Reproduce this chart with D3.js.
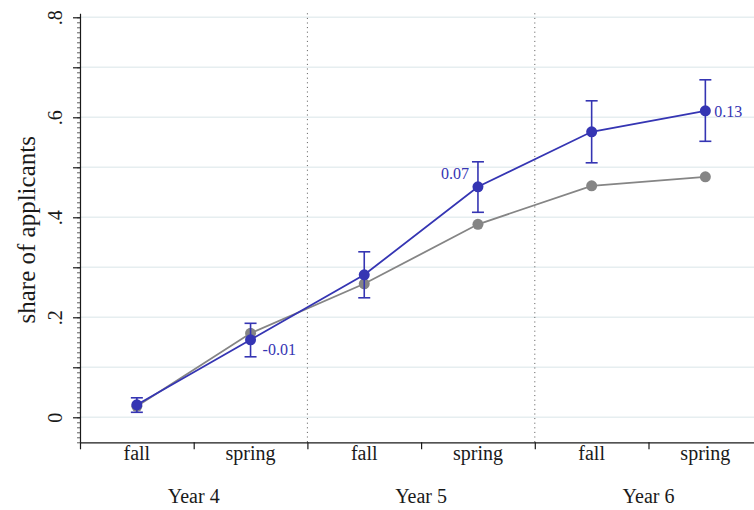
<!DOCTYPE html>
<html>
<head>
<meta charset="utf-8">
<script src="https://cdn.jsdelivr.net/npm/d3@7"></script>
<style>
  html, body { margin: 0; padding: 0; background: #fff; }
  svg { display: block; font-family: "Liberation Serif", "Times New Roman", serif; }
</style>
</head>
<body>
<svg id="chart" width="754" height="510"></svg>
<script>
// Semester slots (term within year) and the year each pair belongs to
const terms = ["fall", "spring", "fall", "spring", "fall", "spring"];
const years = ["Year 4", "Year 5", "Year 6"];
const slotKeys = ["Y4-fall", "Y4-spring", "Y5-fall", "Y5-spring", "Y6-fall", "Y6-spring"];

// Comparison group share (gray)
const grayShare = [0.022, 0.168, 0.267, 0.386, 0.463, 0.481];
// Treated group share (blue) with confidence interval bounds
const blueShare = [0.025, 0.155, 0.285, 0.461, 0.571, 0.613];
const blueLow   = [0.010, 0.121, 0.239, 0.410, 0.509, 0.552];
const blueHigh  = [0.039, 0.188, 0.331, 0.511, 0.633, 0.675];
// Difference labels shown on spring points
const diffLabels = [null, "-0.01", null, "0.07", null, "0.13"];

// Y axis ticks
const yMajorTicks = [0, 0.1, 0.2, 0.3, 0.4, 0.5, 0.6, 0.7, 0.8];
const yTickLabels = { 0: "0", 0.2: ".2", 0.4: ".4", 0.6: ".6", 0.8: ".8" };

(function () {
const svg = d3.select("#chart");
const plotL = 80, plotR = 762.2, plotB = 442.3, plotT = 13.3;
const blue = "#3535b3", grayC = "#858585", ink = "#1a1a1a";

const y = d3.scaleLinear().domain([-0.05, 0.808]).range([plotB, plotT]);
const x = d3.scaleBand().domain(slotKeys).range([plotL, plotR]).padding(0);
const xYear = d3.scaleBand().domain(years).range([plotL, plotR]).padding(0);
const cx = i => x(slotKeys[i]) + x.bandwidth() / 2;

// Horizontal gridlines
svg.append("g").selectAll("line").data(yMajorTicks).join("line")
  .attr("x1", plotL).attr("x2", 754)
  .attr("y1", d => y(d)).attr("y2", d => y(d))
  .attr("stroke", "#e6eef0").attr("stroke-width", 1.5);

// Dotted separators between years
svg.append("g").selectAll("line").data(years.slice(1)).join("line")
  .attr("x1", d => xYear(d)).attr("x2", d => xYear(d))
  .attr("y1", plotT).attr("y2", plotB)
  .attr("stroke", "#555").attr("stroke-width", 1)
  .attr("stroke-dasharray", "1,3.6");

// Y axis: minor ticks every 0.01
const minorTicks = d3.range(-5, 81).map(v => v / 100);
svg.append("g").attr("transform", `translate(${plotL},0)`)
  .call(d3.axisLeft(y).tickValues(minorTicks).tickSize(3).tickSizeOuter(0).tickFormat(""))
  .call(g => g.select(".domain").attr("stroke", ink).attr("stroke-width", 1.2))
  .call(g => g.selectAll(".tick line").attr("stroke", ink).attr("stroke-width", 0.7));

// Y axis: major ticks with rotated labels
svg.append("g").attr("transform", `translate(${plotL},0)`)
  .call(d3.axisLeft(y).tickValues(yMajorTicks).tickSize(7).tickSizeOuter(0)
    .tickFormat(d => yTickLabels[Math.round(d * 10) / 10] || ""))
  .call(g => g.select(".domain").remove())
  .call(g => g.selectAll(".tick line").attr("stroke", ink).attr("stroke-width", 1.2))
  .call(g => g.selectAll(".tick text")
    .attr("transform", "rotate(-90)")
    .attr("x", 0).attr("y", -18).attr("dy", 0)
    .attr("text-anchor", "middle")
    .attr("font-size", 20).attr("fill", ink)
    .attr("font-family", "Liberation Serif"));

// Y axis title
svg.append("text")
  .attr("transform", `translate(35,${y(0.375)}) rotate(-90)`)
  .attr("text-anchor", "middle")
  .attr("font-size", 25).attr("fill", ink)
  .text("share of applicants");

// X axis line and slot boundary ticks
const xEdge = d3.scaleLinear().domain([0, 6]).range([plotL, plotR]);
svg.append("g").attr("transform", `translate(0,${plotB})`)
  .call(d3.axisBottom(xEdge).tickValues(d3.range(0, 6)).tickSize(7).tickSizeOuter(0).tickFormat(""))
  .call(g => g.select(".domain").attr("stroke", ink).attr("stroke-width", 1.2))
  .call(g => g.selectAll(".tick line").attr("stroke", ink).attr("stroke-width", 1.2));

// Term labels
svg.append("g").attr("transform", `translate(0,${plotB})`)
  .call(d3.axisBottom(x).tickSize(0).tickPadding(4).tickFormat((d, i) => terms[i]))
  .call(g => g.select(".domain").remove())
  .call(g => g.selectAll(".tick text")
    .attr("font-size", 20).attr("fill", ink)
    .attr("font-family", "Liberation Serif").attr("dy", "0.71em"));

// Year labels
svg.append("g").attr("transform", `translate(0,${plotB + 46})`)
  .call(d3.axisBottom(xYear).tickSize(0).tickPadding(0))
  .call(g => g.select(".domain").remove())
  .call(g => g.selectAll(".tick text")
    .attr("font-size", 20).attr("fill", ink)
    .attr("font-family", "Liberation Serif").attr("dy", "0.71em"));

// Gray series
const line = d3.line().x((d, i) => cx(i)).y(d => y(d));
svg.append("path").datum(grayShare).attr("d", line)
  .attr("fill", "none").attr("stroke", grayC).attr("stroke-width", 1.8);
svg.append("g").selectAll("circle").data(grayShare).join("circle")
  .attr("cx", (d, i) => cx(i)).attr("cy", d => y(d)).attr("r", 5.5).attr("fill", grayC);

// Blue series: error bars, line, markers
const eb = svg.append("g").attr("stroke", blue).attr("stroke-width", 1.6);
const capW = 6;
blueShare.forEach((v, i) => {
  eb.append("line").attr("x1", cx(i)).attr("x2", cx(i)).attr("y1", y(blueLow[i])).attr("y2", y(blueHigh[i]));
  eb.append("line").attr("x1", cx(i) - capW).attr("x2", cx(i) + capW).attr("y1", y(blueLow[i])).attr("y2", y(blueLow[i]));
  eb.append("line").attr("x1", cx(i) - capW).attr("x2", cx(i) + capW).attr("y1", y(blueHigh[i])).attr("y2", y(blueHigh[i]));
});
svg.append("path").datum(blueShare).attr("d", line)
  .attr("fill", "none").attr("stroke", blue).attr("stroke-width", 1.8);
svg.append("g").selectAll("circle").data(blueShare).join("circle")
  .attr("cx", (d, i) => cx(i)).attr("cy", d => y(d)).attr("r", 5.5).attr("fill", blue);

// Difference labels next to spring points
const labelPos = { 1: { dx: 12, dy: 15, anchor: "start" }, 3: { dx: -9, dy: -8, anchor: "end" }, 5: { dx: 9, dy: 6, anchor: "start" } };
diffLabels.forEach((t, i) => {
  if (!t) return;
  const p = labelPos[i];
  svg.append("text")
    .attr("x", cx(i) + p.dx).attr("y", y(blueShare[i]) + p.dy)
    .attr("text-anchor", p.anchor)
    .attr("font-size", 16).attr("fill", blue)
    .text(t);
});
})();
</script>
</body>
</html>
